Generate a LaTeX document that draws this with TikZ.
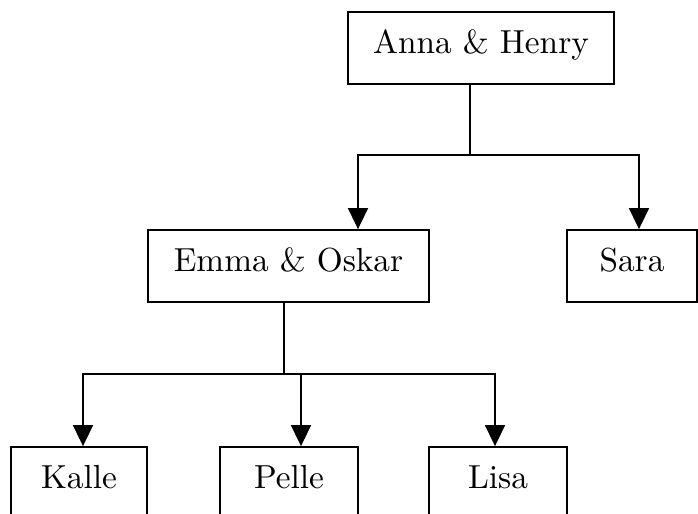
\documentclass[tikz,border=0pt]{standalone}
\usetikzlibrary{arrows.meta}

\tikzset{
  person/.style={draw, line width=0.55pt, inner sep=0pt, minimum height=21.6pt,
    text height=6pt, text depth=3pt},
  arr/.style={line width=0.5pt, -{Triangle[length=6.3pt,width=6pt]}},
}

\begin{document}
\begin{tikzpicture}[x=0.3pt, y=-0.3pt]
        \clip (0,0) rectangle (698,513);

        % generation 1
        \node[person, minimum width=79.8pt] (anna) at (481,48) {Anna \& Henry};

        % generation 2
        \node[person, minimum width=84.3pt] (emma) at (288.5,266) {Emma \& Oskar};
        \node[person, minimum width=39pt] (sara) at (632,266) {Sara};

        % generation 3
        \node[person, minimum width=40.8pt] (kalle) at (79,483) {Kalle};
        \node[person, minimum width=41.4pt] (pelle) at (289,483) {Pelle};
        \node[person, minimum width=41.4pt] (lisa) at (498,483) {Lisa};

        % branches from Anna & Henry
        \coordinate (hub1) at (470,155);
        \draw[line width=0.5pt] (hub1 |- anna.south) -- (hub1);
        \draw[arr] (hub1) -| ([xshift=20.85pt]emma.north);
        \draw[arr] (hub1) -| ([xshift=2.1pt]sara.north);

        % branches from Emma & Oskar
        \coordinate (hub2) at (284,374);
        \draw[line width=0.5pt] (hub2 |- emma.south) -- (hub2);
        \draw[arr] (hub2) -| ([xshift=1.2pt]kalle.north);
        \draw[arr] (hub2) -| ([xshift=3.6pt]pelle.north);
        \draw[arr] (hub2) -| ([xshift=-0.9pt]lisa.north);
\end{tikzpicture}
\end{document}
